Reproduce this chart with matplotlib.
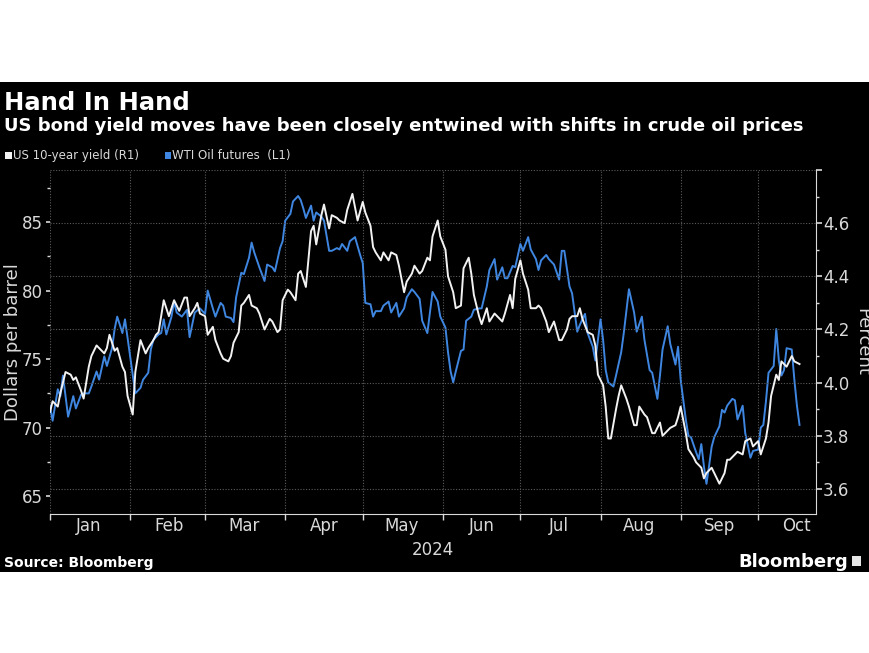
import pandas as pd
import numpy as np
import matplotlib
matplotlib.use('Agg')
import matplotlib.pyplot as plt
import matplotlib.dates as mdates
from matplotlib.patches import Rectangle
from matplotlib.ticker import MultipleLocator, FuncFormatter

# days since 1 Jan 2024 and WTI oil futures ($/bbl)
oil_days = [0, 1, 3, 4, 5, 7, 9, 10, 12, 13, 15, 16, 18, 19, 21, 22, 24, 25, 26, 28,
            29, 31, 33, 35, 36, 38, 39, 40, 42, 43, 44, 45, 47, 48, 49, 51, 53, 54, 56, 58,
            60, 61, 63, 64, 66, 67, 68, 70, 71, 72, 74, 75, 77, 78, 79, 81, 82, 83, 84, 86,
            87, 89, 90, 91, 93, 94, 96, 97, 98, 99, 101, 102, 103, 105, 106, 108, 109, 111, 112, 113,
            115, 116, 118, 120, 121, 122, 124, 125, 126, 128, 129, 131, 132, 134, 135, 137, 138, 140, 141, 143,
            144, 146, 147, 148, 150, 151, 153, 154, 155, 156, 157, 159, 160, 161, 163, 164, 166, 167, 169, 170,
            172, 173, 175, 176, 177, 179, 180, 182, 183, 185, 186, 188, 189, 190, 192, 193, 195, 197, 198, 199,
            201, 202, 204, 205, 207, 208, 210, 211, 213, 214, 215, 216, 218, 219, 221, 222, 224, 226, 227, 229,
            230, 232, 233, 235, 236, 237, 239, 240, 242, 243, 244, 246, 247, 248, 250, 251, 252, 253, 254, 255,
            256, 257, 259, 260, 261, 262, 264, 265, 266, 268, 269, 271, 272, 274, 275, 276, 277, 278, 280, 281,
            282, 283, 284, 285, 287, 288, 289, 290]
oil = [71.6, 70.5, 72.8, 72.3, 73.8, 70.8, 72.3, 71.4, 72.4, 72.5, 72.5, 73.0, 74.1, 73.5, 75.2, 74.5, 75.8, 77.2, 78.1, 76.9,
       77.9, 75.2, 72.5, 72.9, 73.5, 74.0, 75.7, 76.4, 76.8, 76.9, 77.9, 76.8, 78.1, 79.2, 78.4, 78.1, 78.6, 76.6, 78.4, 78.7,
       78.3, 80.0, 78.7, 78.1, 79.1, 78.9, 78.1, 78.0, 77.7, 79.5, 81.3, 81.2, 82.4, 83.5, 82.8, 81.7, 81.2, 80.7, 81.9, 81.7,
       81.4, 83.1, 83.6, 85.1, 85.6, 86.5, 86.9, 86.6, 86.0, 85.3, 86.2, 85.1, 85.7, 85.4, 85.1, 82.9, 82.9, 83.1, 83.0, 83.4,
       82.9, 83.6, 83.9, 82.6, 82.0, 79.1, 79.0, 78.1, 78.5, 78.5, 78.9, 79.2, 78.4, 79.1, 78.1, 78.7, 79.5, 80.1, 79.9, 79.4,
       77.8, 76.9, 78.4, 79.9, 79.2, 78.1, 77.3, 75.5, 74.1, 73.3, 74.1, 75.6, 75.7, 77.8, 78.1, 78.6, 78.7, 78.7, 80.3, 81.5,
       82.3, 80.8, 81.7, 80.9, 80.9, 81.8, 81.7, 83.4, 82.9, 83.9, 83.0, 82.3, 81.5, 82.2, 82.6, 82.3, 81.9, 80.8, 82.9, 82.9,
       80.3, 79.8, 77.0, 77.5, 78.3, 76.9, 75.9, 74.9, 77.9, 76.4, 74.2, 73.3, 73.0, 73.8, 75.5, 76.9, 80.1, 78.4, 77.0, 78.1,
       76.4, 74.2, 74.0, 72.1, 73.8, 75.7, 77.4, 76.1, 74.6, 75.9, 73.5, 70.6, 69.4, 69.3, 68.2, 67.7, 68.8, 67.2, 65.9, 67.2,
       68.6, 69.3, 70.1, 71.3, 71.1, 71.6, 72.1, 72.0, 70.6, 71.6, 69.6, 67.8, 68.3, 68.4, 70.0, 70.2, 71.9, 74.0, 74.5, 77.2,
       74.9, 73.8, 74.2, 75.8, 75.7, 73.5, 71.6, 70.2]

# days since 1 Jan 2024 and US 10-year yield (%)
yld_days = [0, 1, 3, 4, 6, 8, 9, 10, 12, 13, 15, 16, 18, 19, 21, 22, 23, 25, 26, 28,
            29, 30, 32, 33, 35, 37, 38, 40, 41, 42, 44, 45, 46, 48, 50, 52, 53, 54, 56, 57,
            58, 60, 61, 63, 64, 66, 67, 69, 70, 71, 73, 74, 75, 77, 78, 80, 81, 83, 85, 86,
            88, 89, 90, 92, 93, 95, 96, 97, 99, 101, 102, 103, 105, 106, 108, 109, 111, 112, 114, 115,
            117, 118, 119, 121, 122, 124, 125, 126, 128, 129, 131, 132, 134, 135, 137, 138, 140, 141, 143, 144,
            146, 147, 148, 150, 151, 153, 154, 156, 157, 159, 160, 162, 163, 164, 166, 167, 169, 170, 172, 173,
            175, 176, 178, 179, 180, 182, 183, 185, 186, 188, 189, 190, 192, 193, 195, 197, 198, 200, 201, 202,
            204, 205, 206, 208, 210, 211, 212, 214, 215, 216, 217, 219, 220, 221, 223, 224, 226, 227, 228, 230,
            231, 233, 234, 236, 237, 239, 240, 242, 243, 244, 246, 247, 249, 250, 252, 253, 254, 256, 258, 259,
            261, 262, 263, 265, 266, 268, 269, 271, 272, 274, 275, 277, 278, 279, 281, 282, 283, 285, 287, 288,
            290]
yld = [3.89, 3.93, 3.91, 3.96, 4.04, 4.03, 4.01, 4.02, 3.97, 3.94, 4.06, 4.10, 4.14, 4.13, 4.11, 4.13, 4.18, 4.12, 4.13, 4.06,
       4.04, 3.95, 3.88, 4.04, 4.16, 4.11, 4.13, 4.16, 4.18, 4.19, 4.31, 4.28, 4.25, 4.31, 4.27, 4.32, 4.32, 4.25, 4.28, 4.30,
       4.26, 4.25, 4.18, 4.21, 4.16, 4.11, 4.09, 4.08, 4.10, 4.15, 4.19, 4.29, 4.30, 4.33, 4.29, 4.28, 4.26, 4.20, 4.24, 4.23,
       4.19, 4.20, 4.31, 4.35, 4.34, 4.31, 4.41, 4.42, 4.36, 4.57, 4.59, 4.52, 4.63, 4.67, 4.58, 4.63, 4.62, 4.61, 4.60, 4.65,
       4.71, 4.66, 4.61, 4.68, 4.64, 4.59, 4.51, 4.49, 4.46, 4.49, 4.46, 4.49, 4.48, 4.44, 4.34, 4.38, 4.41, 4.44, 4.41, 4.42,
       4.47, 4.46, 4.55, 4.61, 4.55, 4.50, 4.40, 4.34, 4.28, 4.29, 4.43, 4.47, 4.41, 4.33, 4.25, 4.22, 4.28, 4.23, 4.26, 4.25,
       4.23, 4.26, 4.33, 4.28, 4.39, 4.46, 4.41, 4.35, 4.28, 4.28, 4.29, 4.28, 4.23, 4.19, 4.23, 4.16, 4.16, 4.20, 4.24, 4.25,
       4.25, 4.28, 4.24, 4.19, 4.18, 4.14, 4.03, 3.99, 3.91, 3.79, 3.79, 3.90, 3.95, 3.99, 3.94, 3.91, 3.84, 3.84, 3.91, 3.88,
       3.87, 3.81, 3.81, 3.85, 3.80, 3.82, 3.83, 3.84, 3.87, 3.91, 3.81, 3.75, 3.72, 3.70, 3.68, 3.64, 3.66, 3.68, 3.64, 3.62,
       3.66, 3.71, 3.71, 3.73, 3.74, 3.73, 3.78, 3.79, 3.76, 3.78, 3.73, 3.79, 3.85, 3.95, 4.03, 4.01, 4.08, 4.06, 4.10, 4.08,
       4.07]

base = pd.Timestamp('2024-01-01')
oil_dates = base + pd.to_timedelta(oil_days, unit='D')
yld_dates = base + pd.to_timedelta(yld_days, unit='D')

BLUE = '#3f86e0'
WHITE = '#f2f2f2'
GREY = '#d9d9d9'
GRID = '#5a5a5a'

fig = plt.figure(figsize=(8.7, 6.53), dpi=100)
fig.patch.set_facecolor('white')
# black panel behind chart
fig.patches.append(Rectangle((0, 0.124), 1, 0.7504, transform=fig.transFigure,
                             facecolor='black', edgecolor='none', zorder=-10))

ax = fig.add_axes([0.0575, 0.2129, 0.8805, 0.5268])
ax.set_facecolor('black')
ax2 = ax.twinx()

ax.plot(oil_dates, oil, color=BLUE, lw=1.4, zorder=3)
ax2.plot(yld_dates, yld, color=WHITE, lw=1.4, zorder=3)

# x axis: month boundaries as ticks, labels mid-month
ax.set_xlim(base, base + pd.Timedelta(days=296.4))
ax.xaxis.set_major_locator(mdates.MonthLocator())
ax.xaxis.set_major_formatter(plt.NullFormatter())
ax.xaxis.set_minor_locator(mdates.MonthLocator(bymonthday=16))
ax.xaxis.set_minor_formatter(mdates.DateFormatter('%b'))
ax.tick_params(axis='x', which='major', direction='out', length=4, color=GREY, width=1)
ax.tick_params(axis='x', which='minor', length=0, labelsize=12, labelcolor=GREY, pad=2)
ax.xaxis.grid(True, which='major', color=GRID, linestyle=(0, (1, 1.5)), lw=0.8)

# left axis: oil
ax.set_ylim(63.7, 88.8)
ax.yaxis.set_major_locator(MultipleLocator(5))
ax.yaxis.set_minor_locator(MultipleLocator(2.5))
ax.tick_params(axis='y', which='major', direction='out', length=3, color=GREY, width=1.2,
               labelsize=12, labelcolor=GREY, pad=2)
ax.tick_params(axis='y', which='minor', direction='out', length=2, color=GREY, width=1)
ax.set_ylabel('Dollars per barrel', color=GREY, fontsize=13, labelpad=0)

# right axis: yield
ax2.set_ylim(3.506, 4.8)
ax2.set_yticks([3.6, 3.8, 4.0, 4.2, 4.4, 4.6, 4.8])
ax2.yaxis.set_major_formatter(FuncFormatter(lambda v, p: '' if v > 4.7 else f'{v:.1f}'))
ax2.yaxis.set_minor_locator(MultipleLocator(0.1))
ax2.tick_params(axis='y', which='major', direction='out', length=4, color=GREY, width=1.2,
                labelsize=12, labelcolor=GREY, pad=1)
ax2.tick_params(axis='y', which='minor', direction='out', length=2, color=GREY, width=1)
ax2.yaxis.grid(True, which='major', color=GRID, linestyle=(0, (1, 1.5)), lw=0.8)
ax2.set_ylabel('Percent', color=GREY, fontsize=13, rotation=270, labelpad=16)

for a in (ax, ax2):
    for s in ('top', 'left'):
        a.spines[s].set_visible(False)
ax.spines['right'].set_visible(False)
ax2.spines['bottom'].set_visible(False)
ax.spines['bottom'].set_color(GREY)
ax2.spines['right'].set_color(GREY)
ax.set_axisbelow(True)

ax.text(0.5, -0.105, '2024', transform=ax.transAxes, ha='center', va='center',
        color=GREY, fontsize=12)

# titles
fig.text(0.005, 0.832, 'Hand In Hand', color='white', fontsize=17.5, fontweight='bold',
         va='baseline')
fig.text(0.005, 0.800, 'US bond yield moves have been closely entwined with shifts in crude oil prices',
         color='white', fontsize=13, fontweight='bold', va='baseline')

# legend
fig.patches.append(Rectangle((0.006, 0.757), 0.0075, 0.01, transform=fig.transFigure,
                             facecolor=WHITE, edgecolor='none'))
fig.text(0.0145, 0.762, 'US 10-year yield (R1)', color=GREY, fontsize=8.5, va='center')
fig.patches.append(Rectangle((0.1895, 0.757), 0.0075, 0.01, transform=fig.transFigure,
                             facecolor=BLUE, edgecolor='none'))
fig.text(0.198, 0.762, 'WTI Oil futures  (L1)', color=GREY, fontsize=8.5, va='center')

# footer
fig.text(0.005, 0.132, 'Source: Bloomberg', color='white', fontsize=10, fontweight='bold', va='baseline')
fig.text(0.975, 0.132, 'Bloomberg', color='white', fontsize=13, fontweight='bold',
         ha='right', va='baseline')
fig.patches.append(Rectangle((0.979, 0.133), 0.011, 0.015, transform=fig.transFigure,
                             facecolor='#e6e6e6', edgecolor='none'))

fig.savefig('out.png', dpi=100, facecolor=fig.get_facecolor())
